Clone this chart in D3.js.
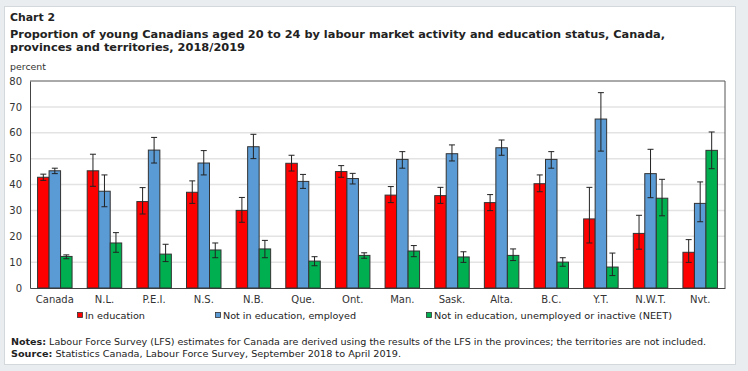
<!DOCTYPE html>
<html><head><meta charset="utf-8">
<script src="https://cdn.jsdelivr.net/npm/d3@7"></script>
<style>body{margin:0;background:#e9edf0;} svg{display:block;}</style>
</head><body>
<script>
const categories = ["Canada","N.L.","P.E.I.","N.S.","N.B.","Que.","Ont.","Man.","Sask.","Alta.","B.C.","Y.T.","N.W.T.","Nvt."];
const seriesNames = ["In education","Not in education, employed","Not in education, unemployed or inactive (NEET)"];
const inEducation =      [42.8,45.3,33.4,37.0,30.0,48.2,45.0,35.9,35.7,33.0,40.3,26.7,21.1,13.8];
const inEducationLow =   [41.6,39.3,28.6,32.7,25.4,45.2,42.8,33.0,32.7,29.9,37.2,17.4,15.0, 9.9];
const inEducationHigh =  [44.0,51.7,38.8,41.4,35.0,51.3,47.3,39.2,38.9,36.1,43.7,38.9,28.1,18.7];
const employed =         [45.3,37.4,53.3,48.3,54.6,41.2,42.3,49.7,51.9,54.2,49.7,65.3,44.2,32.7];
const employedLow =      [44.2,31.4,48.3,43.7,50.0,38.5,40.2,46.3,49.1,51.3,46.3,52.9,34.9,25.6];
const employedHigh =     [46.3,43.7,58.2,53.1,59.4,43.9,44.3,52.7,55.3,57.2,52.7,75.5,53.6,41.0];
const neet =             [12.2,17.4,13.1,14.7,15.1,10.4,12.6,14.3,12.0,12.6,10.0, 8.1,34.7,53.2];
const neetLow =          [11.3,13.8,10.2,11.7,11.7, 8.6,11.5,12.1, 9.9,10.6, 8.4, 4.8,27.9,46.1];
const neetHigh =         [12.8,21.4,16.9,17.4,18.4,12.1,13.6,16.4,14.0,15.1,11.7,13.5,42.0,60.3];
const yTicks = [0,10,20,30,40,50,60,70,80];
const colors = ["#ff0000","#5b9bd5","#00b050"];

(function(){
const W = 748, H = 371;
const svg = d3.select("body").append("svg").attr("width", W).attr("height", H);
const font = "DejaVu Sans, Verdana, sans-serif";

svg.append("rect").attr("x",4.5).attr("y",6.5).attr("width",731).attr("height",358)
  .attr("fill","#fff").attr("stroke","#d3d8dc");

svg.append("text").attr("x",10).attr("y",21).attr("font-family",font).attr("font-weight","bold")
  .attr("font-size",11).attr("fill","#222").attr("textLength",45).attr("lengthAdjust","spacingAndGlyphs").text("Chart 2");
svg.append("text").attr("x",10).attr("y",38).attr("font-family",font).attr("font-weight","bold")
  .attr("font-size",11).attr("fill","#222").attr("textLength",655).attr("lengthAdjust","spacingAndGlyphs")
  .text("Proportion  of young Canadians aged 20 to 24 by labour market activity and education status, Canada,");
svg.append("text").attr("x",10).attr("y",51).attr("font-family",font).attr("font-weight","bold")
  .attr("font-size",11).attr("fill","#222").attr("textLength",235).attr("lengthAdjust","spacingAndGlyphs")
  .text("provinces and territories,  2018/2019");
svg.append("text").attr("x",10).attr("y",70).attr("font-family",font)
  .attr("font-size",9).attr("fill","#333").attr("textLength",36).attr("lengthAdjust","spacingAndGlyphs").text("percent");

const pl = 30, pr = 725, pt = 81, pb = 288;
const x = d3.scaleBand().domain(categories).range([pl, pr]).padding(0);
const y = d3.scaleLinear().domain([0, 80]).range([pb, pt]);

svg.append("g").selectAll("line").data(yTicks.filter(t => t > 0 && t < 80)).join("line")
  .attr("x1",pl).attr("x2",pr).attr("y1",d=>y(d)).attr("y2",d=>y(d))
  .attr("stroke","#e3e3e3").attr("stroke-width",1.5);

svg.append("line").attr("x1",pl).attr("x2",pr).attr("y1",pt).attr("y2",pt).attr("stroke","#555");
svg.append("line").attr("x1",pr).attr("x2",pr).attr("y1",pt).attr("y2",pb).attr("stroke","#555");

const yAxis = svg.append("g").attr("transform",`translate(${pl},0)`)
  .call(d3.axisLeft(y).tickValues(yTicks).tickSize(0).tickPadding(8));
yAxis.select(".domain").attr("stroke","#444");
yAxis.selectAll("text").attr("font-family",font).attr("font-size",10).attr("fill","#333");

const xAxis = svg.append("g").attr("transform",`translate(0,${pb})`)
  .call(d3.axisBottom(x).tickSize(0).tickPadding(8));
xAxis.select(".domain").attr("stroke","#444");
xAxis.selectAll("text").attr("font-family",font).attr("font-size",10).attr("fill","#333");

const barW = 11.5;
const series = [
  {vals: inEducation, lo: inEducationLow, hi: inEducationHigh},
  {vals: employed, lo: employedLow, hi: employedHigh},
  {vals: neet, lo: neetLow, hi: neetHigh}
];
series.forEach((s, si) => {
  const g = svg.append("g");
  const cx = (c) => x(c) + x.bandwidth()/2 + (si - 1) * barW;
  g.selectAll("rect").data(categories).join("rect")
    .attr("x", (c) => cx(c) - barW/2).attr("width", barW)
    .attr("y", (c,i) => y(s.vals[i])).attr("height", (c,i) => y(0) - y(s.vals[i]))
    .attr("fill", colors[si]).attr("stroke","#333").attr("stroke-width",1);
  const e = svg.append("g").attr("stroke","#222").attr("stroke-width",1);
  e.selectAll("line.v").data(categories).join("line").attr("class","v")
    .attr("x1",cx).attr("x2",cx).attr("y1",(c,i)=>y(s.lo[i])).attr("y2",(c,i)=>y(s.hi[i]));
  e.selectAll("line.t").data(categories).join("line").attr("class","t")
    .attr("x1",c=>cx(c)-3).attr("x2",c=>cx(c)+3).attr("y1",(c,i)=>y(s.hi[i])).attr("y2",(c,i)=>y(s.hi[i]));
  e.selectAll("line.b").data(categories).join("line").attr("class","b")
    .attr("x1",c=>cx(c)-3).attr("x2",c=>cx(c)+3).attr("y1",(c,i)=>y(s.lo[i])).attr("y2",(c,i)=>y(s.lo[i]));
});

const legendX = [77, 215, 426];
const legendW = [60, 133, 238];
seriesNames.forEach((n, i) => {
  svg.append("rect").attr("x",legendX[i]+0.5).attr("y",312.5).attr("width",5).attr("height",5)
    .attr("fill",colors[i]).attr("stroke","#333").attr("stroke-width",0.8);
  svg.append("text").attr("x",legendX[i]+8).attr("y",319).attr("font-family",font).attr("font-size",9.5)
    .attr("fill","#222").attr("textLength",legendW[i]).attr("lengthAdjust","spacingAndGlyphs").text(n);
});

const n1 = svg.append("text").attr("x",11).attr("y",345).attr("font-family",font).attr("font-size",9.5)
  .attr("fill","#222").attr("textLength",695).attr("lengthAdjust","spacingAndGlyphs");
n1.append("tspan").attr("font-weight","bold").text("Notes:");
n1.append("tspan").text(" Labour Force Survey (LFS) estimates for Canada are derived using the results of the LFS in the provinces; the territories are not included.");
const n2 = svg.append("text").attr("x",11).attr("y",357).attr("font-family",font).attr("font-size",9.5)
  .attr("fill","#222").attr("textLength",390).attr("lengthAdjust","spacingAndGlyphs");
n2.append("tspan").attr("font-weight","bold").text("Source:");
n2.append("tspan").text(" Statistics Canada, Labour Force Survey, September 2018 to April 2019.");
})();
</script>
</body></html>
